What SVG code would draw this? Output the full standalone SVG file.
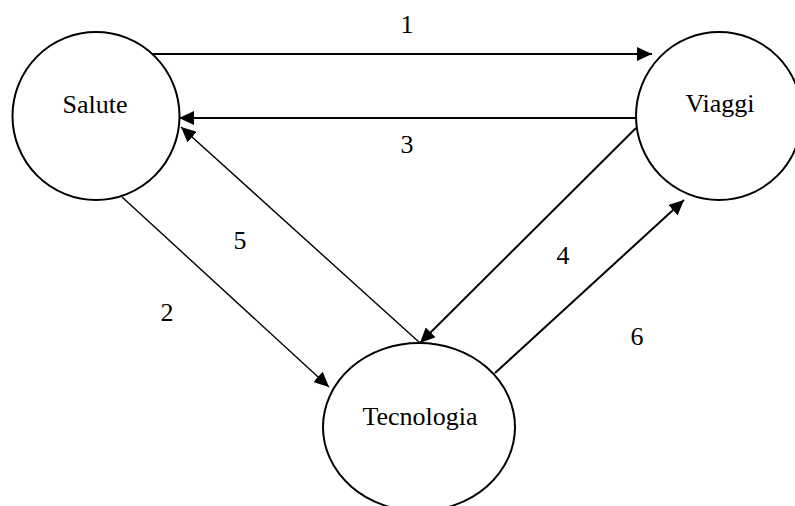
<svg xmlns="http://www.w3.org/2000/svg" width="795" height="506" viewBox="0 0 795 506">
  <style>
    .node { fill: #fff; stroke: #000; stroke-width: 2; }
    .lbl { font-family: "Liberation Serif", "Times New Roman", serif; font-size: 26px; fill: #000; text-anchor: middle; }
    .edge { stroke: #000; stroke-width: 2; fill: none; marker-end: url(#arr); }
    .thin { stroke-width: 1.4; }
  </style>
  <defs>
    <marker id="arr" markerUnits="userSpaceOnUse" markerWidth="16" markerHeight="14" refX="15" refY="7" orient="auto">
      <path d="M0,0 L15,7 L0,14 z" fill="#000"/>
    </marker>
  </defs>
  <rect width="795" height="506" fill="#fff"/>
  <g id="salute">
    <ellipse class="node" cx="96" cy="116" rx="83.5" ry="84"/>
    <text class="lbl" x="95" y="113">Salute</text>
  </g>
  <g id="viaggi">
    <ellipse class="node" cx="719" cy="116" rx="83" ry="84"/>
    <text class="lbl" x="720" y="112">Viaggi</text>
  </g>
  <g id="tecnologia">
    <ellipse class="node" cx="419" cy="427" rx="96" ry="84"/>
    <text class="lbl" x="420" y="425">Tecnologia</text>
  </g>
  <g id="connectors">
    <line class="edge" x1="152" y1="54" x2="652" y2="54"/>
    <line class="edge" x1="636" y1="118" x2="179" y2="118"/>
    <line class="edge thin" x1="122" y1="197" x2="329" y2="387"/>
    <line class="edge thin" x1="420" y1="343" x2="181" y2="127"/>
    <line class="edge" x1="636" y1="128" x2="420" y2="343"/>
    <line class="edge" x1="495" y1="373" x2="684" y2="200"/>
  </g>
  <g id="labels">
    <text class="lbl" x="407" y="33">1</text>
    <text class="lbl" x="407" y="153">3</text>
    <text class="lbl" x="240" y="249">5</text>
    <text class="lbl" x="167" y="321">2</text>
    <text class="lbl" x="563" y="264">4</text>
    <text class="lbl" x="637" y="345">6</text>
  </g>
</svg>
